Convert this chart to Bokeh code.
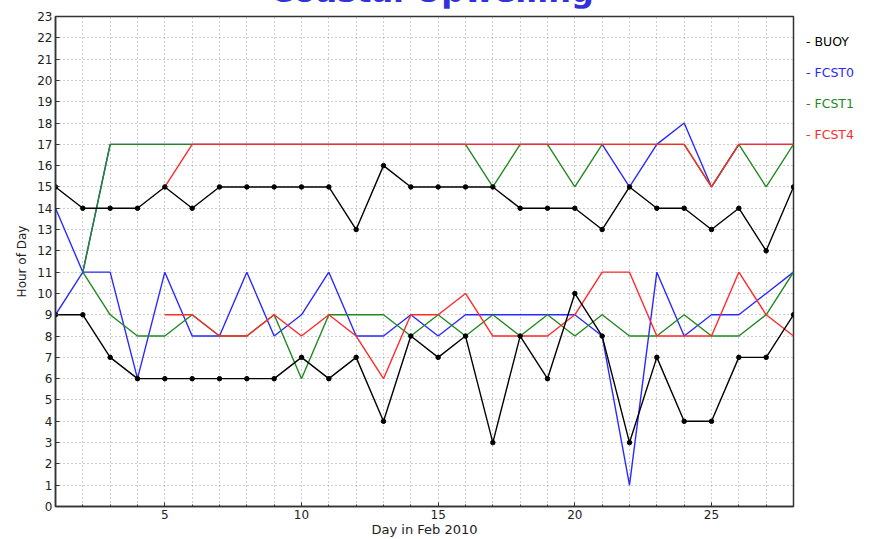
from bokeh.plotting import figure
from bokeh.models import Range1d, SingleIntervalTicker, Div
from bokeh.layouts import column, row
from bokeh.embed import file_html
from bokeh.resources import INLINE

days = list(range(1, 29))

buoy_upper = [15, 14, 14, 14, 15, 14, 15, 15, 15, 15, 15, 13, 16, 15, 15, 15, 15, 14, 14, 14, 13, 15, 14, 14, 13, 14, 12, 15]
buoy_lower = [9, 9, 7, 6, 6, 6, 6, 6, 6, 7, 6, 7, 4, 8, 7, 8, 3, 8, 6, 10, 8, 3, 7, 4, 4, 7, 7, 9]

fcst0_upper = [14, 11, 17, 17, 17, 17, 17, 17, 17, 17, 17, 17, 17, 17, 17, 17, 17, 17, 17, 17, 17, 15, 17, 18, 15, 17, 17, 17]
fcst0_lower = [9, 11, 11, 6, 11, 8, 8, 11, 8, 9, 11, 8, 8, 9, 8, 9, 9, 9, 9, 9, 8, 1, 11, 8, 9, 9, 10, 11]

fcst1_days = list(range(2, 29))
fcst1_upper = [11, 17, 17, 17, 17, 17, 17, 17, 17, 17, 17, 17, 17, 17, 17, 15, 17, 17, 15, 17, 17, 17, 17, 15, 17, 15, 17]
fcst1_lower = [11, 9, 8, 8, 9, 8, 8, 9, 6, 9, 9, 9, 8, 9, 8, 9, 8, 9, 8, 9, 8, 8, 9, 8, 8, 9, 11]

fcst4_days = list(range(5, 29))
fcst4_upper = [15, 17, 17, 17, 17, 17, 17, 17, 17, 17, 17, 17, 17, 17, 17, 17, 17, 17, 17, 17, 15, 17, 17, 17]
fcst4_lower = [9, 9, 8, 8, 9, 8, 9, 8, 6, 9, 9, 10, 8, 8, 8, 9, 11, 11, 8, 8, 8, 11, 9, 8]

series_names = ["BUOY", "FCST0", "FCST1", "FCST4"]
series_colors = ["black", "#2a2aff", "#1f8a1f", "#ff2a2a"]

title_text = "Coastal Upwelling"
x_label = "Day in Feb 2010"
y_label = "Hour of Day"

W, H = 875, 539
X0, X1, Y0, Y1 = 1, 28, 0, 23
TOP = 8            # visible strip of the (cut) title above the figure
FL, FR, FT, FB = 55, 793, 16, 507   # frame edges on the page
FIG_W = 806
FIG_H = H - TOP

p = figure(width=FIG_W, height=FIG_H, output_backend="svg", toolbar_location=None,
           x_range=Range1d(X0, X1), y_range=Range1d(Y0, Y1),
           min_border_left=FL, min_border_right=FIG_W - FR,
           min_border_top=FT - TOP, min_border_bottom=H - FB)
p.background_fill_color = "white"
p.border_fill_color = "white"
p.outline_line_color = "#333333"
p.outline_line_width = 1.5

p.xaxis.ticker = SingleIntervalTicker(interval=5, num_minor_ticks=5)
p.yaxis.ticker = SingleIntervalTicker(interval=1, num_minor_ticks=0)
p.xgrid.ticker = SingleIntervalTicker(interval=1)
p.ygrid.ticker = SingleIntervalTicker(interval=1)
for g in (p.xgrid, p.ygrid):
    g.grid_line_color = "#9a9a9a"
    g.grid_line_dash = "1 3"
    g.grid_line_width = 1

for ax in (p.xaxis, p.yaxis):
    ax.axis_line_color = "#333333"
    ax.axis_line_width = 1.5
    ax.major_tick_in = 4
    ax.major_tick_out = 0
    ax.minor_tick_in = 2
    ax.minor_tick_out = 0
    ax.major_tick_line_color = "#333333"
    ax.minor_tick_line_color = "#333333"
    ax.major_label_text_font = "DejaVu Sans"
    ax.major_label_text_font_size = "12px"
    ax.major_label_text_color = "#222222"
    ax.axis_label_text_font = "DejaVu Sans"
    ax.axis_label_text_font_style = "normal"
    ax.axis_label_text_color = "#222222"

p.xaxis.axis_label = x_label
p.yaxis.axis_label = y_label
p.xaxis.axis_label_text_font_size = "13px"
p.yaxis.axis_label_text_font_size = "12px"
p.xaxis.major_label_standoff = 3
p.xaxis.axis_label_standoff = 0
p.yaxis.major_label_standoff = 3
p.yaxis.axis_label_standoff = 5

lw = 1.4
p.line(days, fcst0_upper, line_color=series_colors[1], line_width=lw)
p.line(days, fcst0_lower, line_color=series_colors[1], line_width=lw)
p.line(fcst1_days, fcst1_upper, line_color=series_colors[2], line_width=lw)
p.line(fcst1_days, fcst1_lower, line_color=series_colors[2], line_width=lw)
p.line(fcst4_days, fcst4_upper, line_color=series_colors[3], line_width=lw)
p.line(fcst4_days, fcst4_lower, line_color=series_colors[3], line_width=lw)
p.line(days, buoy_upper, line_color=series_colors[0], line_width=lw)
p.line(days, buoy_lower, line_color=series_colors[0], line_width=lw)
p.scatter(days, buoy_upper, size=4.5, color=series_colors[0])
p.scatter(days, buoy_lower, size=4.5, color=series_colors[0])

# legend: coloured texts to the right of the plot
items = "".join(
    '<div style="position:absolute; left:0px; top:%dpx; white-space:nowrap; color:%s;">- %s</div>'
    % (42 - TOP - 8 + i * 31, col, name)
    for i, (name, col) in enumerate(zip(series_names, series_colors)))
legend_div = Div(text='<div style="position:relative; width:%dpx; height:%dpx;">%s</div>' % (W - FIG_W, FIG_H, items),
                 width=W - FIG_W, height=FIG_H, margin=(0, 0, 0, 0),
                 styles={"font-family": "DejaVu Sans", "font-size": "12.5px", "line-height": "16px"})

# title, cut at the top of the page as in the reference
title_div = Div(text=title_text, width=W, height=30, margin=(TOP - 30, 0, 0, 0),
                styles={"font-family": "DejaVu Sans", "font-size": "32px", "font-weight": "bold",
                        "color": "#3030dd", "line-height": "26px", "text-align": "center",
                        "width": "%dpx" % (2 * 432), "overflow": "visible"})

layout = column(title_div, row(p, legend_div, spacing=0), spacing=0)
open("out.html", "w").write(file_html(layout, INLINE))
